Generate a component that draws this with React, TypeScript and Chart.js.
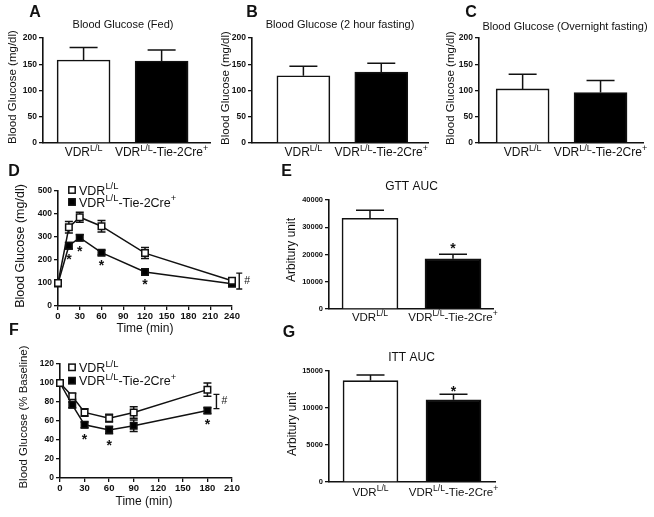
import React, { useEffect, useRef } from 'react';
import { Chart, registerables } from 'chart.js';

Chart.register(...registerables);

const FONT = "'Liberation Sans', Arial, Helvetica, sans-serif";
const W = 654;
const H = 517;
const INK = '#111111';
const YW = 40;

// ---------------- data ----------------
const groups = ['VDR{L/L}', 'VDR{L/L}-Tie-2Cre{+}'];
const legendLabels = ['VDR{L/L}', 'VDR{L/L}-Tie-2Cre{+}'];

const fedMean = [158, 156];
const fedErr = [24, 21];
const fast2hMean = [128, 135];
const fast2hErr = [18, 17];
const overnightMean = [103, 96];
const overnightErr = [28, 23];

const gttTimes = [0, 15, 30, 60, 120, 240];
const gttCtrl = [100, 342, 386, 347, 230, 110];
const gttCtrlErr = [5, 25, 22, 25, 24, 8];
const gttKO = [98, 262, 297, 232, 148, 97];
const gttKOErr = [5, 14, 13, 10, 7, 10];
const gttStarTimes = [15, 30, 60, 120];
const gttBracket = [74, 143];
const gttBracketTime = 250;

const gttAuc = [33300, 18400];
const gttAucErr = [2900, 1700];

const ittTimes = [0, 15, 30, 60, 90, 180];
const ittCtrl = [100, 86, 69, 63, 69, 93];
const ittCtrlErr = [1, 3, 4, 4, 6, 7];
const ittKO = [100, 77, 56, 50.5, 55, 71];
const ittKOErr = [1, 3, 3, 4, 6, 3];
const ittStarTimes = [30, 60, 180];
const ittBracket = [73, 88];
const ittBracketTime = 191;

const ittAuc = [13700, 11100];
const ittAucErr = [770, 770];

// ---------------- helpers ----------------
type Box = { l: number; t: number; r: number; b: number };
type Txt = { s: string; x: number; y: number; size: number; bold?: boolean; rot?: boolean };

function drawText(ctx: CanvasRenderingContext2D, t: Txt) {
  ctx.save();
  ctx.fillStyle = INK;
  ctx.font = `${t.bold ? 'bold ' : ''}${t.size}px ${FONT}`;
  ctx.textAlign = 'center';
  ctx.textBaseline = 'middle';
  ctx.translate(t.x, t.y);
  if (t.rot) ctx.rotate(-Math.PI / 2);
  ctx.fillText(t.s, 0, 0);
  ctx.restore();
}

function parseRich(s: string) {
  const segs: { t: string; sup: boolean }[] = [];
  const re = /\{([^}]*)\}|([^{]+)/g;
  let m: RegExpExecArray | null;
  while ((m = re.exec(s))) {
    if (m[1] !== undefined) segs.push({ t: m[1], sup: true });
    else segs.push({ t: m[2], sup: false });
  }
  return segs;
}

function drawRich(ctx: CanvasRenderingContext2D, s: string, x: number, y: number, size: number, align: 'center' | 'left') {
  const segs = parseRich(s);
  const supSize = size * 0.75;
  const fN = `${size}px ${FONT}`;
  const fS = `${supSize}px ${FONT}`;
  let total = 0;
  const widths = segs.map((sg) => {
    ctx.font = sg.sup ? fS : fN;
    const w = ctx.measureText(sg.t).width;
    total += w;
    return w;
  });
  let cx = align === 'center' ? x - total / 2 : x;
  ctx.save();
  ctx.fillStyle = INK;
  ctx.textAlign = 'left';
  ctx.textBaseline = 'alphabetic';
  segs.forEach((sg, i) => {
    ctx.font = sg.sup ? fS : fN;
    ctx.fillText(sg.t, cx, sg.sup ? y - size * 0.42 : y);
    cx += widths[i];
  });
  ctx.restore();
}

function drawStar(ctx: CanvasRenderingContext2D, x: number, cy: number, size = 14) {
  ctx.save();
  ctx.fillStyle = INK;
  ctx.font = `bold ${size}px ${FONT}`;
  ctx.textAlign = 'center';
  ctx.textBaseline = 'alphabetic';
  ctx.fillText('*', x, cy + size * 0.6);
  ctx.restore();
}

function drawBracket(ctx: CanvasRenderingContext2D, x: number, y1: number, y2: number) {
  ctx.save();
  ctx.strokeStyle = INK;
  ctx.lineWidth = 1.4;
  ctx.beginPath();
  ctx.moveTo(x, y1);
  ctx.lineTo(x, y2);
  ctx.moveTo(x - 3, y1);
  ctx.lineTo(x + 3, y1);
  ctx.moveTo(x - 3, y2);
  ctx.lineTo(x + 3, y2);
  ctx.stroke();
  ctx.restore();
  drawText(ctx, { s: '#', x: x + 8, y: (y1 + y2) / 2, size: 10.5 });
}

function legendRow(ctx: CanvasRenderingContext2D, x: number, y: number, filled: boolean, label: string, size: number) {
  const s = 6.4;
  ctx.save();
  ctx.fillStyle = filled ? '#000' : '#fff';
  ctx.strokeStyle = INK;
  ctx.lineWidth = 1.5;
  ctx.fillRect(x - s / 2, y - s / 2, s, s);
  ctx.strokeRect(x - s / 2, y - s / 2, s, s);
  ctx.restore();
  drawRich(ctx, label, x + 7, y + 4.5, size, 'left');
}

function errorBars(errs: number[][], mode: 'up' | 'both', cap: number, phase: 'before' | 'after') {
  const draw = (chart: any) => {
    const ctx: CanvasRenderingContext2D = chart.ctx;
    const ys = chart.scales.y;
    ctx.save();
    ctx.strokeStyle = INK;
    ctx.lineWidth = 1.5;
    chart.data.datasets.forEach((ds: any, di: number) => {
      const e = errs[di];
      if (!e) return;
      const meta = chart.getDatasetMeta(di);
      meta.data.forEach((el: any, j: number) => {
        const v = ds.data[j].y;
        const x = el.x;
        const top = ys.getPixelForValue(v + e[j]);
        const bot = mode === 'up' ? ys.getPixelForValue(v) : ys.getPixelForValue(v - e[j]);
        ctx.beginPath();
        ctx.moveTo(x, top);
        ctx.lineTo(x, bot);
        ctx.moveTo(x - cap / 2, top);
        ctx.lineTo(x + cap / 2, top);
        if (mode === 'both') {
          ctx.moveTo(x - cap / 2, bot);
          ctx.lineTo(x + cap / 2, bot);
        }
        ctx.stroke();
      });
    });
    ctx.restore();
  };
  return phase === 'before'
    ? { id: 'errorBars', beforeDatasetsDraw: draw }
    : { id: 'errorBars', afterDatasetsDraw: draw };
}

function decor(fn: (chart: any, ctx: CanvasRenderingContext2D) => void) {
  return {
    id: 'decor',
    afterDraw(chart: any) {
      const ctx = chart.ctx;
      ctx.save();
      fn(chart, ctx);
      ctx.restore();
    },
  };
}

function common(box: Box, xH: number) {
  return {
    responsive: false,
    maintainAspectRatio: false,
    animation: false,
    devicePixelRatio: 1,
    events: [],
    layout: { padding: { left: box.l - YW, top: box.t, right: W - box.r, bottom: H - box.b - xH } },
    plugins: { legend: { display: false }, tooltip: { enabled: false }, title: { display: false } },
  };
}

function yAxis(max: number, step: number, size: number) {
  return {
    type: 'linear',
    min: 0,
    max,
    ticks: {
      stepSize: step,
      color: INK,
      padding: 2,
      font: { size, weight: 'bold', family: FONT },
      callback: (v: any) => String(v),
    },
    grid: { drawOnChartArea: false, drawTicks: true, tickLength: 4, color: INK, lineWidth: 1.3 },
    border: { display: true, color: INK, width: 1.6 },
    afterFit: (s: any) => {
      s.width = YW;
    },
  };
}

type BarPanel = {
  box: Box;
  xMin: number;
  xMax: number;
  yMax: number;
  yStep: number;
  tickSize: number;
  means: number[];
  errs: number[];
  barW: number;
  labelDy: number;
  labelSize: number;
  starOffset?: number;
  texts: Txt[];
};

function barConfig(p: BarPanel): any {
  return {
    type: 'bar',
    data: {
      datasets: [
        {
          data: p.means.map((v, i) => ({ x: i + 1, y: v })),
          backgroundColor: ['#ffffff', '#000000'],
          borderColor: INK,
          borderWidth: 1.6,
          barThickness: p.barW,
          borderSkipped: 'bottom',
        },
      ],
    },
    options: {
      ...common(p.box, 1),
      scales: {
        x: {
          type: 'linear',
          min: p.xMin,
          max: p.xMax,
          offset: false,
          ticks: { display: false },
          grid: { display: false, drawTicks: false, offset: false },
          border: { display: true, color: INK, width: 1.6 },
          afterFit: (s: any) => {
            s.height = 1;
          },
        },
        y: yAxis(p.yMax, p.yStep, p.tickSize),
      },
    },
    plugins: [
      errorBars([p.errs], 'up', 28, 'after'),
      decor((chart, ctx) => {
        const xs = chart.scales.x;
        const ys = chart.scales.y;
        const b = chart.chartArea.bottom;
        groups.forEach((g, i) => drawRich(ctx, g, xs.getPixelForValue(i + 1), b + p.labelDy, p.labelSize, 'center'));
        if (p.starOffset !== undefined) {
          const i = 1;
          drawStar(ctx, xs.getPixelForValue(i + 1), ys.getPixelForValue(p.means[i] + p.errs[i]) - p.starOffset);
        }
        p.texts.forEach((t) => drawText(ctx, t));
      }),
    ],
  };
}

type LinePanel = {
  box: Box;
  xMax: number;
  xStep: number;
  yMax: number;
  yStep: number;
  times: number[];
  ctrl: number[];
  ctrlErr: number[];
  ko: number[];
  koErr: number[];
  stars: number[];
  starDy: number;
  bracket: number[];
  bracketTime: number;
  legendX: number;
  legendY: number[];
  texts: Txt[];
};

function lineDs(times: number[], vals: number[], fill: string) {
  return {
    data: times.map((t, i) => ({ x: t, y: vals[i] })),
    borderColor: INK,
    borderWidth: 1.5,
    tension: 0,
    fill: false,
    pointStyle: 'rect',
    pointRadius: 4.6,
    pointBackgroundColor: fill,
    pointBorderColor: INK,
    pointBorderWidth: 1.5,
    clip: false,
  };
}

function lineConfig(p: LinePanel): any {
  return {
    type: 'line',
    data: { datasets: [lineDs(p.times, p.ctrl, '#ffffff'), lineDs(p.times, p.ko, '#000000')] },
    options: {
      ...common(p.box, 20),
      scales: {
        x: {
          type: 'linear',
          min: 0,
          max: p.xMax,
          ticks: {
            stepSize: p.xStep,
            color: INK,
            padding: 1,
            maxRotation: 0,
            autoSkip: false,
            font: { size: 9.5, weight: 'bold', family: FONT },
          },
          grid: { drawOnChartArea: false, drawTicks: true, tickLength: 4, color: INK, lineWidth: 1.3 },
          border: { display: true, color: INK, width: 1.6 },
          afterFit: (s: any) => {
            s.height = 20;
          },
        },
        y: yAxis(p.yMax, p.yStep, 8.5),
      },
    },
    plugins: [
      errorBars([p.ctrlErr, p.koErr], 'both', 8, 'before'),
      decor((chart, ctx) => {
        const xs = chart.scales.x;
        const ys = chart.scales.y;
        p.stars.forEach((t) => {
          const i = p.times.indexOf(t);
          drawStar(ctx, xs.getPixelForValue(t), ys.getPixelForValue(p.ko[i] - p.koErr[i]) + p.starDy);
        });
        drawBracket(ctx, xs.getPixelForValue(p.bracketTime), ys.getPixelForValue(p.bracket[1]), ys.getPixelForValue(p.bracket[0]));
        legendRow(ctx, p.legendX, p.legendY[0], false, legendLabels[0], 12.5);
        legendRow(ctx, p.legendX, p.legendY[1], true, legendLabels[1], 12.5);
        p.texts.forEach((t) => drawText(ctx, t));
      }),
    ],
  };
}

// ---------------- panels ----------------
const panelA = barConfig({
  box: { l: 43, t: 38, r: 210, b: 143 },
  xMin: 0.48,
  xMax: 2.62,
  yMax: 200,
  yStep: 50,
  tickSize: 8.5,
  means: fedMean,
  errs: fedErr,
  barW: 53,
  labelDy: 13,
  labelSize: 12,
  texts: [
    { s: 'A', x: 35, y: 13, size: 16, bold: true },
    { s: 'Blood Glucose (Fed)', x: 123, y: 25, size: 11 },
    { s: 'Blood Glucose (mg/dl)', x: 13, y: 87, size: 11.5, rot: true },
  ],
});

const panelB = barConfig({
  box: { l: 252, t: 38, r: 428, b: 143 },
  xMin: 0.34,
  xMax: 2.6,
  yMax: 200,
  yStep: 50,
  tickSize: 8.5,
  means: fast2hMean,
  errs: fast2hErr,
  barW: 53,
  labelDy: 13,
  labelSize: 12,
  texts: [
    { s: 'B', x: 252, y: 13, size: 16, bold: true },
    { s: 'Blood Glucose (2 hour fasting)', x: 340, y: 25, size: 11 },
    { s: 'Blood Glucose (mg/dl)', x: 226, y: 88, size: 11.5, rot: true },
  ],
});

const panelC = barConfig({
  box: { l: 479, t: 38, r: 643, b: 143 },
  xMin: 0.44,
  xMax: 2.545,
  yMax: 200,
  yStep: 50,
  tickSize: 8.5,
  means: overnightMean,
  errs: overnightErr,
  barW: 53,
  labelDy: 13,
  labelSize: 12,
  texts: [
    { s: 'C', x: 471, y: 12.5, size: 16, bold: true },
    { s: 'Blood Glucose (Overnight fasting)', x: 565, y: 27, size: 11 },
    { s: 'Blood Glucose (mg/dl)', x: 451, y: 88, size: 11.5, rot: true },
  ],
});

const panelE = barConfig({
  box: { l: 329, t: 200, r: 493, b: 309 },
  xMin: 0.506,
  xMax: 2.482,
  yMax: 40000,
  yStep: 10000,
  tickSize: 7.5,
  means: gttAuc,
  errs: gttAucErr,
  barW: 56,
  labelDy: 12,
  labelSize: 11.5,
  starOffset: 10,
  texts: [
    { s: 'E', x: 286.5, y: 172, size: 16, bold: true },
    { s: 'GTT AUC', x: 411.5, y: 187, size: 12 },
    { s: 'Arbitury unit', x: 292, y: 250, size: 12, rot: true },
  ],
});

const panelG = barConfig({
  box: { l: 329, t: 371, r: 495, b: 482 },
  xMin: 0.5,
  xMax: 2.5,
  yMax: 15000,
  yStep: 5000,
  tickSize: 7.5,
  means: ittAuc,
  errs: ittAucErr,
  barW: 55,
  labelDy: 14,
  labelSize: 11.5,
  starOffset: 7,
  texts: [
    { s: 'G', x: 289, y: 333, size: 16, bold: true },
    { s: 'ITT AUC', x: 411.5, y: 358, size: 12 },
    { s: 'Arbitury unit', x: 293, y: 424, size: 12, rot: true },
  ],
});

const panelD = lineConfig({
  box: { l: 58, t: 191, r: 232, b: 306 },
  xMax: 240,
  xStep: 30,
  yMax: 500,
  yStep: 100,
  times: gttTimes,
  ctrl: gttCtrl,
  ctrlErr: gttCtrlErr,
  ko: gttKO,
  koErr: gttKOErr,
  stars: gttStarTimes,
  starDy: 7,
  bracket: gttBracket,
  bracketTime: gttBracketTime,
  legendX: 72,
  legendY: [190, 202],
  texts: [
    { s: 'D', x: 14, y: 172, size: 16, bold: true },
    { s: 'Blood Glucose (mg/dl)', x: 21, y: 246, size: 12.5, rot: true },
    { s: 'Time (min)', x: 145, y: 329, size: 12 },
  ],
});

const panelF = lineConfig({
  box: { l: 60, t: 364, r: 232, b: 478 },
  xMax: 210,
  xStep: 30,
  yMax: 120,
  yStep: 20,
  times: ittTimes,
  ctrl: ittCtrl,
  ctrlErr: ittCtrlErr,
  ko: ittKO,
  koErr: ittKOErr,
  stars: ittStarTimes,
  starDy: 7.5,
  bracket: ittBracket,
  bracketTime: ittBracketTime,
  legendX: 72,
  legendY: [367.3, 380.7],
  texts: [
    { s: 'F', x: 14, y: 331, size: 16, bold: true },
    { s: 'Blood Glucose (% Baseline)', x: 24, y: 417, size: 11.5, rot: true },
    { s: 'Time (min)', x: 144, y: 502, size: 12 },
  ],
});

const panels = [panelA, panelB, panelC, panelD, panelE, panelF, panelG];

function ChartCanvas({ config }: { config: any }) {
  const ref = useRef<HTMLCanvasElement>(null);
  useEffect(() => {
    if (!ref.current) return;
    const chart = new Chart(ref.current, config);
    return () => chart.destroy();
  }, [config]);
  return (
    <canvas
      ref={ref}
      width={W}
      height={H}
      style={{ position: 'absolute', left: 0, top: 0, width: W, height: H, pointerEvents: 'none' }}
    />
  );
}

export default function App() {
  return (
    <div
      style={{
        position: 'fixed',
        left: 0,
        top: 0,
        width: W,
        height: H,
        background: '#ffffff',
        overflow: 'hidden',
      }}
    >
      {panels.map((cfg, i) => (
        <ChartCanvas key={i} config={cfg} />
      ))}
    </div>
  );
}
